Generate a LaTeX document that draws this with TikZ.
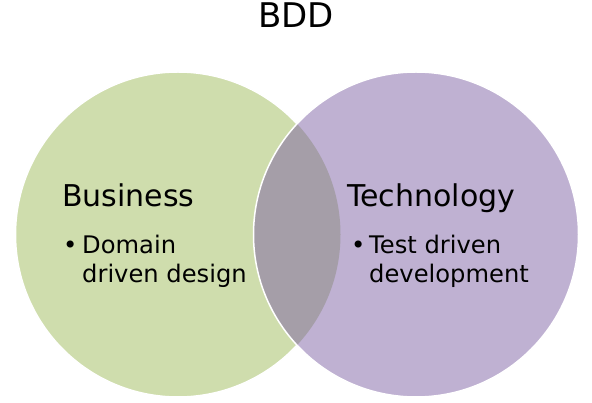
\documentclass[tikz,border=0pt]{standalone}
\usepackage{fontspec}
\setmainfont{DejaVu Sans}
\definecolor{bizgreen}{HTML}{CFDDAD}
\definecolor{techlilac}{HTML}{BFB1D2}
\definecolor{overlap}{HTML}{A59EA8}
\begin{document}
\begin{tikzpicture}[x=1pt,y=-1pt,
        head/.style={anchor=base west,inner sep=0pt,font=\fontsize{30}{32}\selectfont},
        item/.style={anchor=base west,inner sep=0pt,font=\fontsize{24.2}{29}\selectfont}]
            \useasboundingbox (0,0) rectangle (592,403);
            \coordinate (biz) at (178,234.5);
            \coordinate (tech) at (416,234.5);
            \draw[white,line width=1.5pt,fill=bizgreen] (biz) circle (162.5pt);
            \fill[techlilac] (tech) circle (162.5pt);
            \begin{scope}
                \clip (biz) circle (162.5pt);
                \fill[overlap] (tech) circle (162.5pt);
            \end{scope}
            \draw[white,line width=1.5pt] (tech) circle (162.5pt);
            \node[anchor=base,inner sep=0pt,font=\fontsize{34}{36}\selectfont] (title) at (296,28) {BDD};
            \node[head] (bizhead) at (62,207) {Business};
            \node[head] (techhead) at (347,207) {Technology};
            \node[item] (bizdot) at (63,254) {•};
            \node[item] (bizitem) at (82,254) {Domain};
            \node[item] (bizitemb) at (82,283) {driven design};
            \node[item] (techdot) at (351,254) {•};
            \node[item] (techitem) at (369,254) {Test driven};
            \node[item] (techitemb) at (369,283) {development};
        \end{tikzpicture}
\end{document}
